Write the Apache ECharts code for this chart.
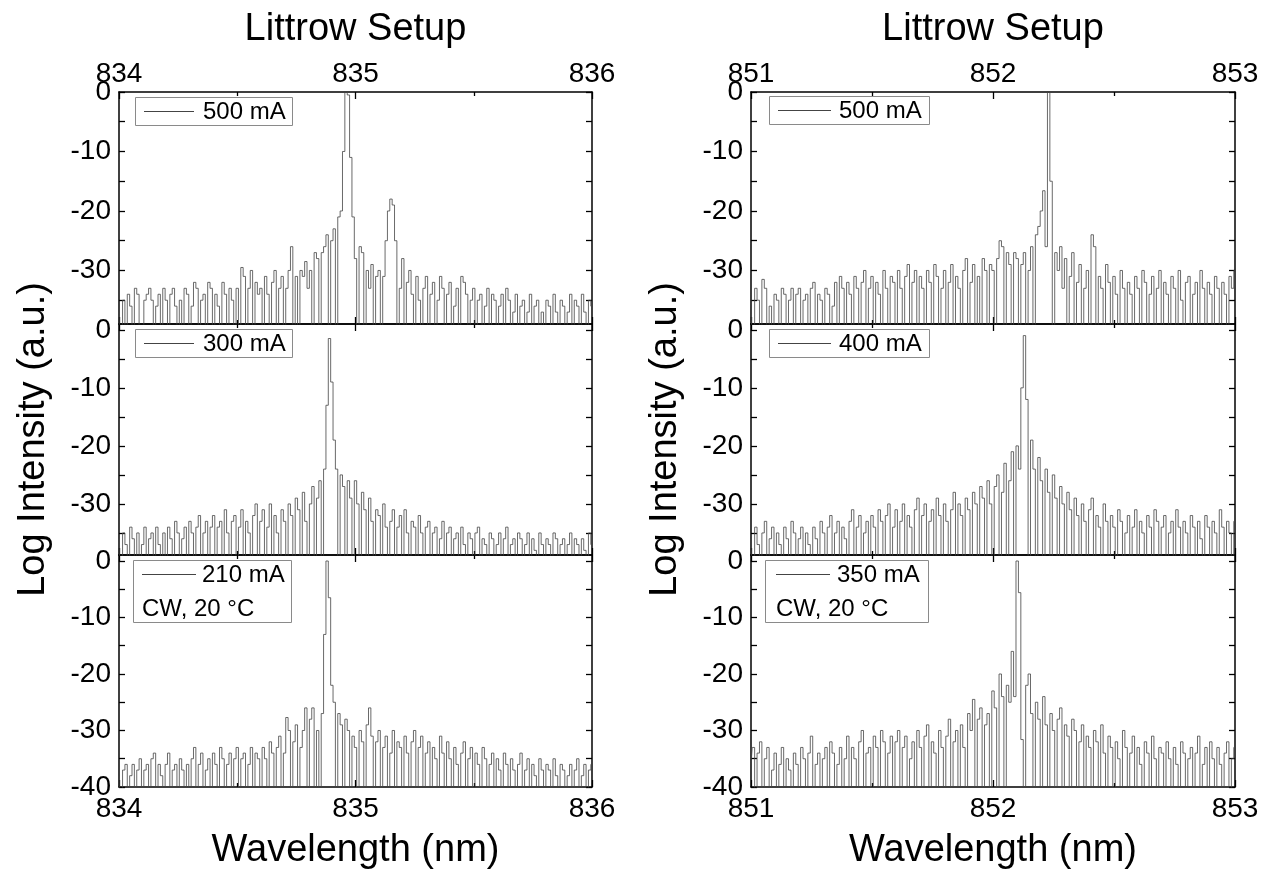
<!DOCTYPE html>
<html><head><meta charset="utf-8">
<script src="https://cdn.jsdelivr.net/npm/echarts@6/dist/echarts.min.js"></script>
<style>html,body{margin:0;padding:0;background:#fff}#c{width:1275px;height:872px}</style>
</head><body><div id="c"></div>
<script>
// ---- data ----
const STEP = 0.01;               // wavelength step (nm)
const leftStart = 834;           // left column wavelength start
const rightStart = 851;          // right column wavelength start
const yTickValues = [0, -10, -20, -30, -40];
const legendLabels = ['500 mA', '300 mA', '210 mA', '500 mA', '400 mA', '350 mA'];
const noteLabel = 'CW, 20 °C';
const titleText = 'Littrow Setup';
const xName = 'Wavelength (nm)';
const yName = 'Log Intensity (a.u.)';

// left column, 500 mA (834.00 ... 836.00)
const left500 = [
-37,-45,-35,-45,-34,-36,-45,-33,-34,-45,
-45,-35,-34,-33,-35,-45,-36,-34,-45,-33,
-35,-45,-34,-33,-36,-45,-35,-45,-33,-34,
-45,-36,-32,-33,-45,-35,-34,-45,-32,-33,
-45,-34,-36,-45,-32,-34,-45,-33,-35,-45,
-33,-45,-29.5,-31,-45,-33,-30,-45,-32,-34,
-33,-45,-31,-34,-45,-32,-30,-45,-33,-31,
-45,-33,-30,-26,-45,-31,-45,-30,-31,-28.5,
-33,-30,-45,-27,-28,-45,-27,-26,-24,-45,
-25,-23,-45,-21,-20,-10,0,-0.5,-11,-21,
-28,-45,-26,-27,-45,-30,-33,-29,-45,-31,
-30,-45,-31,-25,-20,-18,-19,-25,-45,-33,
-28,-45,-32,-30,-34,-45,-31,-35,-45,-33,
-31,-45,-34,-32,-45,-35,-31,-33,-45,-34,
-32,-45,-36,-33,-45,-31,-32,-34,-45,-35,
-33,-45,-35,-34,-45,-36,-33,-45,-34,-35,
-45,-36,-34,-45,-33,-35,-45,-37,-34,-45,
-36,-35,-45,-37,-34,-45,-36,-35,-45,-37,
-45,-35,-36,-45,-34,-37,-45,-35,-36,-45,
-37,-34,-45,-35,-36,-45,-34,-37,-45,-35,
-36];
// left column, 300 mA
const left300 = [
-36,-45,-35,-37,-45,-34,-36,-45,-35,-45,
-37,-34,-45,-36,-35,-45,-34,-37,-45,-35,
-45,-34,-36,-45,-33,-35,-45,-36,-34,-45,
-33,-35,-45,-34,-32,-45,-35,-33,-45,-34,
-32,-45,-34,-33,-45,-31,-35,-45,-33,-32,
-45,-34,-31,-45,-33,-35,-45,-32,-30,-45,
-33,-31,-45,-34,-30,-45,-32,-35,-45,-31,
-33,-45,-30,-32,-45,-29,-31,-45,-28,-33,
-45,-30,-27,-45,-29,-26,-45,-24,-13,-1.5,
-9,-19,-24,-45,-25,-27,-45,-26,-29,-45,
-26,-30,-45,-28,-31,-45,-29,-33,-45,-31,
-32,-45,-30,-34,-45,-33,-31,-45,-34,-32,
-45,-31,-35,-45,-33,-34,-45,-32,-35,-45,
-34,-33,-45,-35,-34,-45,-36,-33,-45,-35,
-34,-45,-36,-35,-45,-34,-37,-45,-35,-36,
-45,-35,-34,-45,-36,-37,-45,-35,-36,-45,
-37,-35,-45,-36,-34,-45,-37,-36,-45,-35,
-36,-45,-37,-35,-45,-36,-38,-45,-35,-37,
-45,-36,-37,-45,-35,-36,-45,-37,-36,-45,
-37,-35,-45,-36,-37,-45,-36,-38,-45,-35,
-37];
// left column, 210 mA
const left210 = [
-38,-45,-37,-36,-45,-38,-36,-45,-37,-35,
-45,-37,-36,-45,-35,-34,-45,-36,-38,-45,
-36,-34,-45,-37,-36,-45,-35,-37,-45,-36,
-45,-35,-33,-45,-36,-34,-45,-37,-35,-45,
-34,-36,-45,-33,-35,-45,-36,-34,-45,-35,
-33,-45,-35,-34,-45,-36,-33,-45,-34,-35,
-45,-33,-35,-45,-32,-34,-45,-33,-31,-45,
-34,-27.7,-30,-45,-32,-29,-45,-33,-30,-26,
-45,-28,-26,-45,-30,-45,-27,-13,0,-6.5,
-22,-25,-45,-27,-29,-45,-28,-30,-45,-31,
-33,-45,-30,-32,-45,-29,-26,-31,-45,-32,
-30,-45,-33,-31,-45,-34,-30,-45,-32,-33,
-45,-31,-34,-45,-32,-30,-45,-33,-31,-45,
-34,-32,-45,-33,-35,-45,-31,-34,-45,-32,
-35,-45,-33,-36,-45,-34,-32,-45,-35,-33,
-45,-34,-36,-45,-33,-35,-45,-36,-34,-45,
-35,-37,-45,-34,-36,-45,-35,-37,-45,-36,
-34,-45,-37,-35,-45,-36,-38,-45,-35,-37,
-45,-36,-37,-45,-35,-38,-45,-36,-37,-45,
-38,-36,-45,-37,-35,-45,-38,-36,-45,-37,
-36];
// right column, 500 mA (851.00 ... 853.00)
const right500 = [
-34,-45,-33,-35,-45,-31.5,-33,-45,-36,-45,
-34,-35,-45,-33,-34,-45,-35,-33,-45,-34,
-33,-45,-35,-34,-45,-33,-32,-45,-34,-35,
-45,-33,-34,-45,-36,-32,-45,-31,-33,-45,
-32,-34,-45,-31,-33,-45,-32,-30,-45,-33,
-31,-45,-32,-34,-45,-30,-33,-45,-31,-32,
-45,-30,-33,-45,-31,-29,-45,-32,-30,-45,
-31,-33,-45,-30,-32,-45,-29,-31,-45,-33,
-30,-45,-32,-29,-45,-31,-33,-45,-30,-28,
-45,-32,-29,-45,-31,-45,-28,-30,-45,-29,
-30,-45,-28,-25,-26,-45,-27,-29,-45,-27,
-28,-45,-29,-27,-45,-30,-26,-45,-24,-22.6,
-20,-16.6,-26,0,-15,-45,-27,-30,-26,-33,
-28,-45,-31,-27,-45,-32,-29,-45,-33,-30,
-45,-24,-26,-45,-31,-33,-45,-29,-32,-45,
-31,-34,-45,-30,-33,-45,-32,-34,-45,-31,
-33,-45,-30,-32,-45,-34,-31,-45,-33,-30,
-45,-32,-34,-45,-31,-33,-45,-30,-35,-45,
-32,-31,-45,-34,-32,-45,-30,-33,-45,-32,
-34,-45,-31,-33,-45,-32,-34,-45,-31,-33,
-30];
// right column, 400 mA
const right400 = [
-36,-45,-34,-37,-45,-35,-33,-45,-36,-34,
-45,-35,-37,-45,-34,-36,-45,-33,-35,-45,
-36,-34,-45,-35,-37,-45,-34,-36,-45,-33,
-35,-45,-34,-32,-45,-35,-33,-45,-34,-36,
-45,-33,-31,-45,-34,-32,-45,-35,-33,-45,
-32,-34,-45,-31,-33,-45,-32,-30,-45,-34,
-31,-45,-33,-30,-45,-32,-34,-45,-31,-29,
-45,-32,-30,-45,-33,-31,-45,-29,-32,-45,
-30,-33,-45,-31,-28,-45,-30,-32,-45,-29,
-31,-45,-28,-30,-45,-27,-29,-45,-26,-30,
-45,-27,-25,-45,-28,-23,-45,-26,-21,-45,
-20,-24,-10,-1,-12,-45,-19,-24,-45,-22,
-26,-45,-24,-28,-45,-25,-29,-45,-27,-30,
-45,-28,-31,-45,-29,-32,-45,-30,-33,-45,
-31,-29,-45,-32,-34,-45,-30,-33,-45,-32,
-34,-45,-31,-33,-45,-35,-32,-45,-34,-31,
-45,-33,-35,-45,-32,-34,-45,-31,-33,-45,
-34,-32,-45,-35,-33,-45,-31,-34,-45,-33,
-35,-45,-32,-34,-45,-33,-36,-45,-32,-34,
-45,-33,-35,-45,-31,-34,-45,-33,-35,-45,
-33];
// right column, 350 mA
const right350 = [
-36,-33,-45,-34,-32,-45,-35,-33,-45,-37,
-34,-45,-36,-33,-45,-35,-37,-45,-34,-36,
-45,-33,-35,-45,-34,-31,-45,-36,-34,-45,
-35,-33,-45,-32,-34,-45,-36,-33,-45,-35,
-31,-45,-33,-35,-45,-32,-30,-45,-34,-33,
-45,-31,-33,-45,-30,-32,-45,-34,-31,-45,
-32,-30,-45,-33,-31,-45,-35,-32,-45,-30,
-33,-45,-31,-29,-45,-32,-34,-45,-30,-33,
-45,-31,-28,-45,-32,-30,-45,-29,-33,-45,
-27,-30,-24.5,-45,-28,-26,-45,-29,-27,-45,
-23,-26,-45,-20,-24,-45,-22,-25,-16,-24,
0,-5.6,-31.6,-45,-22,-20,-27,-45,-25,-28,
-45,-24,-29,-45,-27,-30,-45,-28,-26,-45,
-29,-31,-45,-28,-30,-45,-32,-29,-45,-31,
-33,-45,-30,-32,-45,-29,-34,-45,-31,-33,
-45,-32,-35,-45,-30,-33,-45,-34,-31,-45,
-33,-36,-45,-32,-34,-45,-31,-35,-45,-33,
-34,-45,-32,-35,-45,-33,-36,-45,-32,-34,
-45,-35,-33,-45,-34,-31,-45,-36,-33,-45,
-32,-35,-45,-33,-36,-45,-34,-32,-45,-35,
-33];

// ---- layout ----
const FONT = '"Liberation Sans", Arial, Helvetica, sans-serif';
const cols = [{left:119, width:473, start:leftStart}, {left:751, width:484, start:rightStart}];
const rows = [
  {top:92,  height:232, min:-39,   max:0},
  {top:324, height:231, min:-38.8, max:1},
  {top:555, height:232, min:-40,   max:1.06}
];
const panelData = [[left500, left300, left210], [right500, right400, right350]];

const grids = [], xAxes = [], yAxes = [], series = [], graphics = [];
const lineColor = '#444';
const axisLineStyle = {color:'#000', width:1.5};
let gi = 0;
cols.forEach((c, ci) => {
  rows.forEach((r, ri) => {
    grids.push({left:c.left, top:r.top, width:c.width, height:r.height, show:false});
    const xBase = {
      type:'value', gridIndex:gi, min:c.start, max:c.start+2, interval:1,
      axisLine:{show:true, onZero:false, lineStyle:axisLineStyle},
      axisTick:{show:true, inside:true, length:7, lineStyle:{color:'#000', width:1.3}},
      minorTick:{show:true, splitNumber:2, length:4, lineStyle:{color:'#000', width:1.3}},
      splitLine:{show:false}, minorSplitLine:{show:false}
    };
    xAxes.push(Object.assign({}, xBase, {
      position:'bottom',
      axisLabel:{show: ri===2, fontSize:28, color:'#000', fontFamily:FONT, margin:8},
      name: ri===2 ? xName : '', nameLocation:'middle', nameGap:45,
      nameTextStyle:{fontSize:38, color:'#000', fontFamily:FONT}
    }));
    xAxes.push(Object.assign({}, xBase, {
      position:'top',
      axisLabel:{show: ri===0, fontSize:28, color:'#000', fontFamily:FONT, margin:4}
    }));
    const labVals = yTickValues.filter(v => v >= r.min - 1e-9 && v <= r.max + 1e-9);
    const tickVals = [];
    for (let v = 0; v >= r.min - 1e-9; v -= 5) tickVals.push(v);
    const yBase = {
      type:'value', gridIndex:gi, min:r.min, max:r.max,
      axisLine:{show:true, onZero:false, lineStyle:axisLineStyle},
      axisTick:{show:true, inside:true, length:6, customValues:tickVals, lineStyle:{color:'#000', width:1.3}},
      splitLine:{show:false}
    };
    yAxes.push(Object.assign({}, yBase, {
      position:'left',
      axisLabel:{show:true, customValues:labVals, fontSize:28, color:'#000', fontFamily:FONT, margin:8},
      name: ri===1 ? yName : '', nameLocation:'middle', nameGap:66,
      nameTextStyle:{fontSize:38, color:'#000', fontFamily:FONT}
    }));
    yAxes.push(Object.assign({}, yBase, {
      position:'right', axisLabel:{show:false}
    }));
    const vals = panelData[ci][ri];
    series.push({
      type:'line', name: legendLabels[ci*3+ri], xAxisIndex: gi*2, yAxisIndex: gi*2,
      data: vals.map((v, i) => [Math.round((c.start + i*STEP)*1000)/1000, v]),
      step:'middle', symbol:'none', clip:true, animation:false,
      lineStyle:{color:lineColor, width:0.8}
    });
    gi++;
  });
});

// legends (boxes)
const legendBoxes = [
  {x:135, y:97,  w:157, h:28, lineX:[144,194], textX:203, two:false},
  {x:135, y:329, w:157, h:28, lineX:[144,194], textX:203, two:false},
  {x:133, y:560, w:158, h:62, lineX:[142,196], textX:202, two:true, noteX:142},
  {x:769, y:96,  w:160, h:28, lineX:[778,831], textX:839, two:false},
  {x:769, y:329, w:160, h:28, lineX:[778,831], textX:839, two:false},
  {x:765, y:560, w:163, h:62, lineX:[776,830], textX:837, two:true, noteX:776}
];
legendBoxes.forEach((b, k) => {
  graphics.push({type:'rect', shape:{x:b.x+0.5, y:b.y+0.5, width:b.w, height:b.h},
    style:{fill:'#fff', stroke:'#8a8a8a', lineWidth:1}, z:100});
  const ly = b.y + 14;
  graphics.push({type:'line', shape:{x1:b.lineX[0], y1:ly+0.5, x2:b.lineX[1], y2:ly+0.5},
    style:{stroke:lineColor, lineWidth:1}, z:101});
  graphics.push({type:'text', x:b.textX, y:ly+1, style:{text:legendLabels[k], fontSize:24,
    fontFamily:FONT, fill:'#000', textAlign:'left', textVerticalAlign:'middle'}, z:101});
  if (b.two) {
    graphics.push({type:'text', x:b.noteX, y:b.y+49, style:{text:noteLabel, fontSize:24,
      fontFamily:FONT, fill:'#000', textAlign:'left', textVerticalAlign:'middle'}, z:101});
  }
});
// titles
cols.forEach(c => {
  graphics.push({type:'text', x:c.left + c.width/2, y:30, style:{text:titleText, fontSize:38,
    fontFamily:FONT, fill:'#000', textAlign:'center', textVerticalAlign:'middle'}, z:101});
});

const chart = echarts.init(document.getElementById('c'), null, {renderer:'canvas'});
chart.setOption({
  backgroundColor:'#fff', animation:false,
  grid:grids, xAxis:xAxes, yAxis:yAxes, series:series, graphic:graphics
});
</script></body></html>
